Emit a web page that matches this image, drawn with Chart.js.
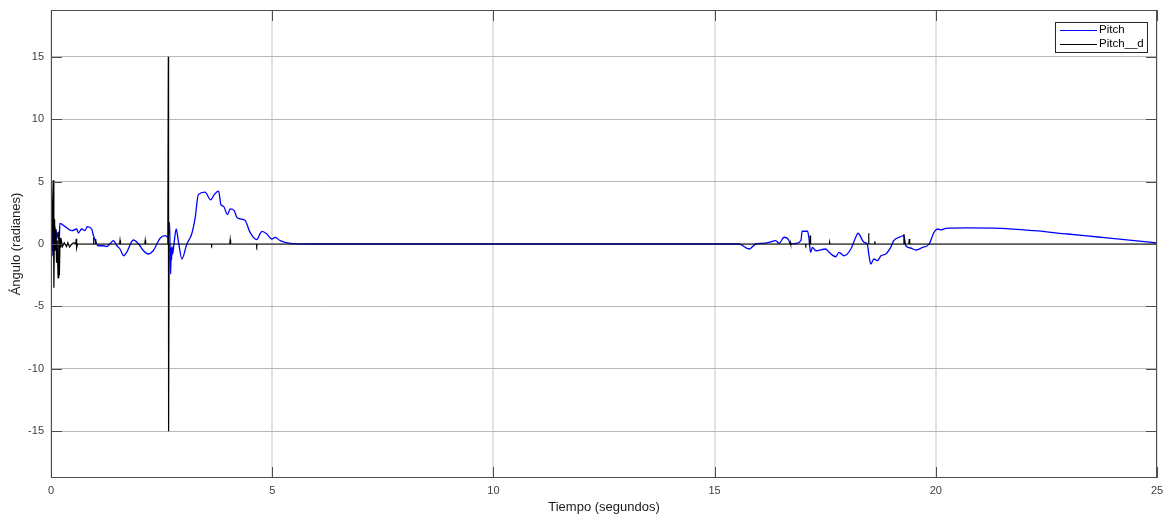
<!DOCTYPE html>
<html>
<head>
<meta charset="utf-8">
<script src="https://cdn.jsdelivr.net/npm/chart.js@4/dist/chart.umd.min.js"></script>
<style>
  html, body { margin: 0; padding: 0; background: #fff; }
  canvas { display: block; }
</style>
</head>
<body>
<canvas id="pitchChart" width="1168" height="518"></canvas>
<script>
// Pitch (medido) - tiempo en segundos, ángulo en radianes
const pitchT = [0, 0.01, 0.02, 0.03, 0.045, 0.06, 0.075, 0.09, 0.1, 0.115, 0.13, 0.15, 0.17, 0.19, 0.2,
  0.32, 0.47, 0.58, 0.62, 0.69, 0.77, 0.82, 0.92, 0.96, 1.07, 1.18, 1.26, 1.33, 1.41, 1.49, 1.56,
  1.64, 1.71, 1.86, 1.98, 2.09, 2.2, 2.31, 2.47, 2.58, 2.65, 2.68, 2.695, 2.705, 2.715, 2.725, 2.735,
  2.75, 2.78, 2.83, 2.88, 2.96, 3.07, 3.18, 3.26, 3.33, 3.48, 3.61, 3.69, 3.79, 3.84, 3.9, 3.99,
  4.05, 4.14, 4.2, 4.28, 4.39, 4.5, 4.65, 4.73, 4.77, 4.88, 4.99, 5.07, 5.18, 5.41, 5.8, 15.5,
  15.55, 15.78, 15.93, 16.08, 16.23, 16.38, 16.46, 16.57, 16.66, 16.72, 16.83, 16.95, 16.98, 17.1,
  17.13, 17.17, 17.21, 17.29, 17.51, 17.59, 17.74, 17.81, 17.93, 18.08, 18.19, 18.24, 18.38, 18.45,
  18.49, 18.53, 18.6, 18.68, 18.76, 18.87, 18.98, 19.05, 19.17, 19.28, 19.32, 19.43, 19.55, 19.7,
  19.85, 19.96, 20.04, 20.11, 20.23, 20.72, 21.47, 22.22, 22.98, 23.73, 24.49, 25];
const pitchV = [0, 1.2, -0.6, 1.6, -0.9, 1.9, 0.3, 1.4, 0.2, 1.1, 0.4, 0.9, 0.5, 0.6, 1.66,
  1.39, 1.07, 1.2, 0.88, 1.2, 1.07, 1.39, 1.2, 0.67, -0.14, -0.14, -0.2, 0, 0.27, -0.14, -0.4,
  -0.94, -0.67, 0.32, 0, -0.54, -0.8, -0.54, 0.48, 0.67, 0.54, 1.74, -1.0, -2.41, -0.3, -1.3, -0.2,
  -0.8, 0, 1.2, 0.2, -1.2, 0, 0.8, 2.14, 3.96, 4.15, 3.54, 3.96, 4.23, 3.16, 3.02, 2.36,
  2.81, 2.68, 2.14, 2.01, 1.87, 0.93, 0.35, 0.85, 1.01, 0.8, 0.4, 0.53, 0.27, 0.05, 0, 0,
  0, -0.4, 0, 0.05, 0.13, 0.27, 0.05, 0.54, 0.4, 0, 0.05, 0.27, 1.02, 1.02,
  0.54, -0.67, -0.27, -0.54, -0.4, -0.67, -1.02, -0.67, -0.94, -0.4, 0.54, 0.86, 0.13, 0,
  -0.94, -1.61, -1.2, -1.34, -0.94, -0.8, -0.27, 0.27, 0.54, 0.67, -0.13, -0.32, -0.48, -0.27,
  0, 0.94, 1.2, 1.13, 1.26, 1.29, 1.26, 1.07, 0.8, 0.54, 0.27, 0.08];

// Pitch__d (referencia)
const pitchDT = [0, 0.02, 0.035, 0.05, 0.065, 0.08, 0.095, 0.11, 0.125, 0.14, 0.16, 0.175, 0.19, 0.205,
  0.22, 0.24, 0.26, 0.3, 0.35, 0.38, 0.42, 0.47, 0.52, 0.56, 0.57, 0.58, 0.6, 0.95, 0.96, 0.97,
  1.0, 1.01, 1.02, 1.55, 1.56, 1.57, 2.12, 2.13, 2.14, 2.64, 2.652, 2.658, 2.67, 3.62, 3.63, 3.64,
  4.04, 4.05, 4.06, 4.64, 4.65, 4.66, 16.7, 16.71, 16.72, 17.05, 17.06, 17.07, 17.15, 17.16, 17.17,
  17.59, 17.6, 17.61, 18.47, 18.48, 18.49, 18.61, 18.62, 18.63, 19.27, 19.28, 19.29, 19.39, 19.4,
  19.41, 25];
const pitchDV = [0, -1.0, 3.2, 5.1, -3.5, 2.0, -0.5, 1.2, -1.5, 0.3, -2.7, 1.0, -2.5, 0.5,
  -0.3, 0.2, -0.2, 0.1, -0.2, 0.1, -0.25, 0, 0.1, 0, 0.42, -0.3, 0, 0, 0.5, 0,
  0, 0.4, 0, 0, 0.3, 0, 0, 0.3, 0, 0, 15, -15, 0, 0, -0.1, 0,
  0, 0.35, 0, 0, -0.15, 0, 0, 0.15, 0, 0, -0.1, 0, 0, 0.67, 0,
  0, 0.13, 0, 0, 0.86, 0, 0, 0.21, 0, 0, 0.8, 0, 0, 0.4,
  0, 0];

const xTicks = [0, 5, 10, 15, 20, 25];
const yTicks = [-15, -10, -5, 0, 5, 10, 15];
const seriesNames = ['Pitch', 'Pitch__d'];
const seriesColors = ['#0000ff', '#000000'];

const toPoints = (ts, vs) => ts.map((t, i) => ({ x: t, y: vs[i] }));

// caja de ejes, marcas hacia dentro y leyenda con recuadro
const axesBox = {
  id: 'axesBox',
  afterDraw(chart) {
    const { ctx, chartArea: a, scales } = chart;
    ctx.save();
    ctx.strokeStyle = '#4d4d4d';
    ctx.lineWidth = 1;
    ctx.strokeRect(a.left + 0.5, a.top + 0.5, a.right - a.left - 1, a.bottom - a.top - 1);
    const len = 11;
    ctx.beginPath();
    xTicks.forEach(v => {
      const px = Math.round(scales.x.getPixelForValue(v)) + 0.5;
      ctx.moveTo(px, a.bottom); ctx.lineTo(px, a.bottom - len);
      ctx.moveTo(px, a.top); ctx.lineTo(px, a.top + len);
    });
    yTicks.forEach(v => {
      const py = Math.round(scales.y.getPixelForValue(v)) + 0.5;
      ctx.moveTo(a.left, py); ctx.lineTo(a.left + len, py);
      ctx.moveTo(a.right, py); ctx.lineTo(a.right - len, py);
    });
    ctx.stroke();

    // leyenda
    const bx = a.right - 102, by = a.top + 12, bw = 92, bh = 30;
    ctx.fillStyle = '#fff';
    ctx.fillRect(bx, by, bw, bh);
    ctx.strokeStyle = '#262626';
    ctx.strokeRect(bx + 0.5, by + 0.5, bw, bh);
    ctx.font = '11.5px "Liberation Sans", Arial, sans-serif';
    ctx.textBaseline = 'middle';
    ctx.textAlign = 'left';
    seriesNames.forEach((name, i) => {
      const ly = by + 8 + i * 14;
      ctx.strokeStyle = seriesColors[i];
      ctx.lineWidth = 1;
      ctx.beginPath();
      ctx.moveTo(bx + 5, ly + 0.5); ctx.lineTo(bx + 42, ly + 0.5);
      ctx.stroke();
      ctx.fillStyle = '#000';
      ctx.fillText(name, bx + 44, ly);
    });
    ctx.restore();
  }
};

const labelFont = { family: '"Liberation Sans", Arial, sans-serif', size: 11 };
const titleFont = { family: '"Liberation Sans", Arial, sans-serif', size: 13 };

new Chart(document.getElementById('pitchChart').getContext('2d'), {
  type: 'line',
  data: {
    datasets: [{
      label: seriesNames[0],
      data: toPoints(pitchT, pitchV),
      borderColor: seriesColors[0],
      borderWidth: 1.3,
      pointRadius: 0,
      cubicInterpolationMode: 'monotone',
      fill: false,
      order: 1
    }, {
      label: seriesNames[1],
      data: toPoints(pitchDT, pitchDV),
      borderColor: seriesColors[1],
      borderWidth: 1.2,
      pointRadius: 0,
      tension: 0,
      fill: false,
      order: 0
    }]
  },
  options: {
    responsive: false,
    animation: false,
    layout: { padding: { top: 10, right: 11, left: 0, bottom: 0 } },
    plugins: { legend: { display: false }, tooltip: { enabled: false } },
    scales: {
      x: {
        type: 'linear',
        min: 0,
        max: 25,
        afterBuildTicks: s => { s.ticks = xTicks.map(v => ({ value: v })); },
        afterFit: s => { s.height = 40; s.paddingLeft = 0; s.paddingRight = 0; },
        grid: { color: '#e2e2e2', lineWidth: 2, drawTicks: false },
        border: { display: false },
        ticks: { font: labelFont, color: '#404040', padding: 6, maxRotation: 0 },
        title: {
          display: true,
          text: 'Tiempo (segundos)',
          font: titleFont,
          color: '#1a1a1a',
          padding: { top: 0, bottom: 3 }
        }
      },
      y: {
        type: 'linear',
        min: -18.75,
        max: 18.75,
        afterBuildTicks: s => { s.ticks = yTicks.map(v => ({ value: v })); },
        afterFit: s => { s.width = 51; s.paddingTop = 0; s.paddingBottom = 0; },
        grid: { color: '#b8b8b8', lineWidth: 1, drawTicks: false },
        border: { display: false },
        ticks: { font: labelFont, color: '#404040', padding: 7 },
        title: {
          display: true,
          text: 'Ángulo (radianes)',
          font: titleFont,
          color: '#1a1a1a',
          padding: { top: 9, bottom: 0 }
        }
      }
    }
  },
  plugins: [axesBox]
});
</script>
</body>
</html>
